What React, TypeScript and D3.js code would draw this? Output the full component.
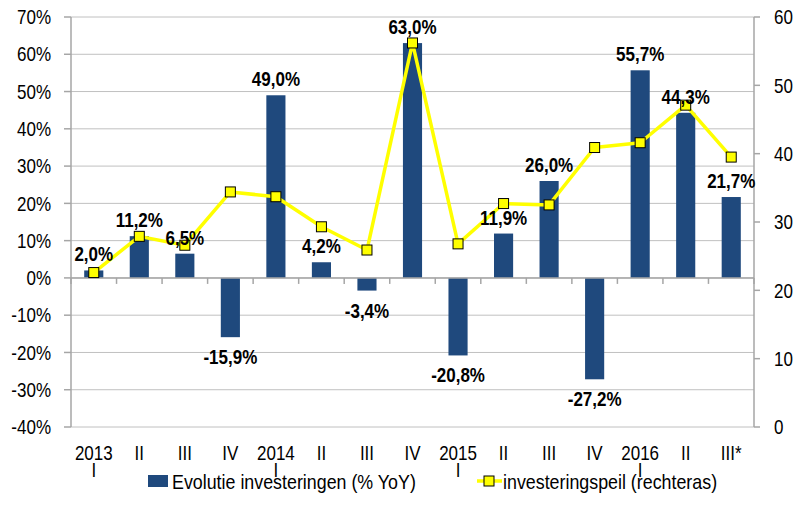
import React from "react";
import * as d3 from "d3";

const categories = ["2013|I", "II", "III", "IV", "2014|I", "II", "III", "IV", "2015|I", "II", "III", "IV", "2016|I", "II", "III*"];
const barValues = [2.0, 11.2, 6.5, -15.9, 49.0, 4.2, -3.4, 63.0, -20.8, 11.9, 26.0, -27.2, 55.7, 44.3, 21.7];
const lineValues = [22.6, 27.9, 26.6, 34.4, 33.7, 29.3, 25.9, 56.2, 26.8, 32.7, 32.5, 40.9, 41.6, 47.1, 39.5];
const leftTicks = [-40, -30, -20, -10, 0, 10, 20, 30, 40, 50, 60, 70];
const rightTicks = [0, 10, 20, 30, 40, 50, 60];
const barName = "Evolutie investeringen (% YoY)";
const lineName = "investeringspeil (rechteras)";

const W = 795, H = 505;
const L = 71, R = 754, T = 17, B = 427;
const FONT = "'Liberation Sans', Arial, sans-serif";
const BAR = "#1f497d";
const YEL = "#ffff00";
const GRID = "#c0c0c0";
const AXIS = "#a6a6a6";
const SX = 0.85;

type NProps = {
  x: number;
  y: number;
  size: number;
  anchor?: "start" | "middle" | "end";
  bold?: boolean;
  dy?: string;
  children: React.ReactNode;
};

function NText({ x, y, size, anchor = "start", bold = false, dy, children }: NProps) {
  return (
    <g transform={`translate(${x},${y}) scale(${SX},1)`}>
      <text x={0} y={0} dy={dy} textAnchor={anchor} fontSize={size} fontWeight={bold ? "bold" : "normal"} fill="#000">
        {children}
      </text>
    </g>
  );
}

export default function App() {
  const idx = categories.map((_, i) => i);
  const x = d3.scaleBand<number>().domain(idx).range([L, R]).padding(0);
  const yL = d3.scaleLinear().domain([-40, 70]).range([B, T]);
  const yR = d3.scaleLinear().domain([0, 60]).range([B, T]);
  const bw = x.bandwidth() * 0.42;
  const cx = (i: number) => (x(i) as number) + x.bandwidth() / 2;
  const line = d3.line<number>().x((_, i) => cx(i)).y((d) => yR(d));
  const fmt = (v: number) => v.toFixed(1).replace(".", ",") + "%";

  return (
    <svg width={W} height={H} style={{ position: "absolute", left: 0, top: 0, background: "#fff" }} fontFamily={FONT}>
      {/* gridlines */}
      {leftTicks.map((t) => (
        <line key={"g" + t} x1={L} x2={R} y1={yL(t)} y2={yL(t)} stroke={GRID} strokeWidth={1} />
      ))}
      {/* left axis */}
      <line x1={L} x2={L} y1={T} y2={B} stroke={AXIS} strokeWidth={1.5} />
      {leftTicks.map((t) => (
        <g key={"l" + t}>
          <line x1={L - 7} x2={L} y1={yL(t)} y2={yL(t)} stroke={AXIS} strokeWidth={1.5} />
          <NText x={L - 20} y={yL(t)} dy="0.36em" anchor="end" size={20}>{t + "%"}</NText>
        </g>
      ))}
      {/* right axis */}
      <line x1={R} x2={R} y1={T} y2={B} stroke={AXIS} strokeWidth={1.5} />
      {rightTicks.map((t) => (
        <g key={"r" + t}>
          <line x1={R} x2={R + 6} y1={yR(t)} y2={yR(t)} stroke={AXIS} strokeWidth={1.5} />
          <NText x={R + 20} y={yR(t)} dy="0.36em" size={20}>{t}</NText>
        </g>
      ))}
      {/* bars */}
      {barValues.map((v, i) => (
        <rect key={"b" + i} x={cx(i) - bw / 2} width={bw} y={yL(Math.max(0, v))} height={Math.abs(yL(v) - yL(0))} fill={BAR} />
      ))}
      {/* x axis at zero */}
      <line x1={L} x2={R} y1={yL(0)} y2={yL(0)} stroke={AXIS} strokeWidth={1.5} />
      {idx.map((i) => (
        <line key={"xt" + i} x1={x(i) as number} x2={x(i) as number} y1={yL(0)} y2={yL(0) + 6} stroke={AXIS} strokeWidth={1.5} />
      ))}
      <line x1={R} x2={R} y1={yL(0)} y2={yL(0) + 6} stroke={AXIS} strokeWidth={1.5} />
      {/* category labels */}
      {categories.map((c, i) => {
        const parts = c.split("|");
        return (
          <g key={"c" + i}>
            {parts.map((p, j) => (
              <NText key={j} x={cx(i)} y={460 + j * 17} anchor="middle" size={20}>{p}</NText>
            ))}
          </g>
        );
      })}
      {/* line */}
      <path d={line(lineValues) || ""} fill="none" stroke={YEL} strokeWidth={3.5} strokeLinejoin="round" />
      {lineValues.map((v, i) => (
        <rect key={"m" + i} x={cx(i) - 5} y={yR(v) - 5} width={10} height={10} fill={YEL} stroke="#000" strokeWidth={1} />
      ))}
      {/* data labels */}
      {barValues.map((v, i) => (
        <NText key={"d" + i} x={cx(i)} y={v >= 0 ? yL(v) - 9 : yL(v) + 27} anchor="middle" size={20} bold>
          {fmt(v)}
        </NText>
      ))}
      {/* legend */}
      <rect x={148} y={475} width={20} height={12} fill={BAR} />
      <NText x={172} y={481} dy="0.36em" size={21}>{barName}</NText>
      <line x1={477} x2={502} y1={481} y2={481} stroke={YEL} strokeWidth={3.5} />
      <rect x={484} y={476} width={10} height={10} fill={YEL} stroke="#000" strokeWidth={1} />
      <NText x={503} y={481} dy="0.36em" size={21}>{lineName}</NText>
    </svg>
  );
}
